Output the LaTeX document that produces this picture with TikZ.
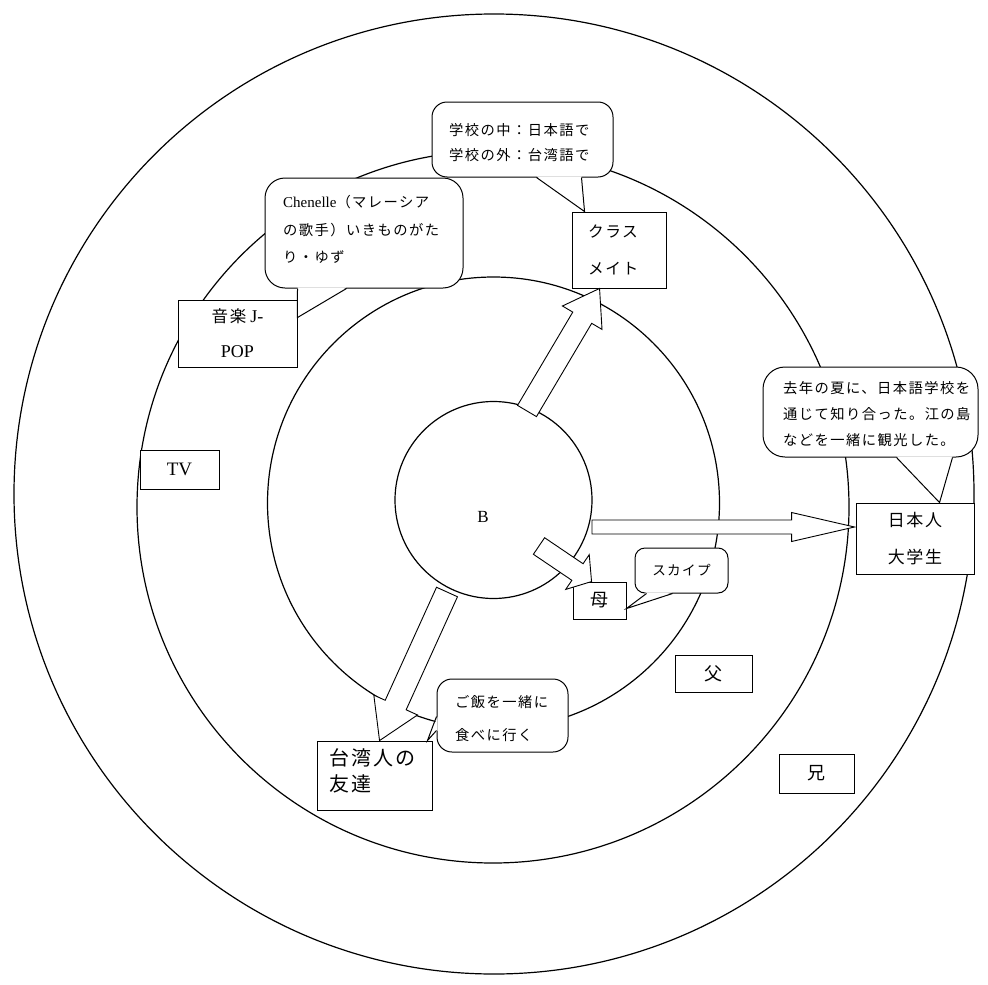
\documentclass[tikz,border=0pt]{standalone}
\usepackage{fontspec}
\setmainfont{Liberation Serif}
\newfontfamily\jp[LetterSpace=10]{Noto Sans CJK JP}
\usetikzlibrary{calc}
\newcommand\jpsize[2]{\jp\fontsize{#1}{#2}\selectfont}
\newcommand\rmsize[1]{\rmfamily\fontsize{#1}{#1}\selectfont}
% block arrow: tail, tip, shaft half width, head half width, head length
\newcommand\barr[5]{%
  \coordinate (bh) at ($(#2)!#5!(#1)$);
  \draw[barrow] ($(#1)!#3!90:(#2)$) -- ($(bh)!#3!90:(#2)$) -- ($(bh)!#4!90:(#2)$) -- (#2)
    -- ($(bh)!#4!-90:(#2)$) -- ($(bh)!#3!-90:(#2)$) -- ($(#1)!#3!-90:(#2)$) -- cycle;
}
\begin{document}
\begin{tikzpicture}[x=1pt,y=-1pt,
  circ/.style={circle, draw, line width=1.2pt, inner sep=0},
  box/.style={rectangle, draw, fill=white, line width=0.9pt, inner sep=0},
  bubble/.style={rectangle, draw, fill=white, rounded corners=#1, line width=1pt, inner sep=0},
  bubble/.default=15pt,
  barrow/.style={draw, fill=white, line width=0.9pt, line join=miter},
  tailline/.style={draw, line width=1pt},
  txt/.style={inner sep=0, align=left}]
\fill[white] (0,0) rectangle (988,985);
\useasboundingbox (0,0) rectangle (988,985);

% circles
\node[circ, minimum size=960pt] (c4) at (494,494) {};
\node[circ, minimum size=712pt] (c3) at (493,507) {};
\node[circ, minimum size=452pt] (c2) at (493.5,503) {};
\node[circ, minimum size=197pt] (c1) at (493.5,500) {};
\node[inner sep=0, font=\rmsize{17}] (b) at (483,517) {B};

% boxes
\node[box, minimum width=94pt, minimum height=76pt, text width=62pt, align=left, font=\jpsize{15.7}{37}] (kls) at (619,250) {クラス\\メイト};
\node[box, minimum width=119pt, minimum height=67pt, align=center, font=\jpsize{16.5}{35}] (ong) at (237.5,333.5) {音楽\hspace{4pt}{\rmsize{18}J-}\\{\rmsize{18}POP}};
\node[box, minimum width=79pt, minimum height=39pt, font=\rmsize{19}] (tv) at (179.5,469.5) {TV};
\node[box, minimum width=118pt, minimum height=71pt, align=center, font=\jpsize{17}{37}] (nih) at (915,538.5) {日本人\\大学生};
\node[box, minimum width=53pt, minimum height=37pt, font=\jpsize{18}{18}] (haha) at (599.5,600.5) {母};
\node[box, minimum width=77pt, minimum height=37pt, font=\jpsize{18}{18}] (chichi) at (713.5,673.5) {父};
\node[box, minimum width=75pt, minimum height=39pt, font=\jpsize{18}{18}] (ani) at (816.5,773.5) {兄};
\node[box, minimum width=115pt, minimum height=69pt] (tai) at (374.5,775.5) {};
\node[txt, anchor=west, font=\jpsize{20}{26}] (taitxt) at (329,771) {台湾人の\\友達};

% arrows
\coordinate (a1s) at ($(c1.center)+(33.5,-89)$);
\coordinate (a1e) at ($(kls.south west)+(28,0)$);
\coordinate (a2s) at ($(c1.center)+(98.5,27)$);
\coordinate (a2e) at ($(nih.west)+(-1,-11.5)$);
\coordinate (a3s) at ($(c1.center)+(45.5,46)$);
\coordinate (a3e) at ($(haha.north west)+(19,0)$);
\coordinate (a4s) at ($(c1.center)+(-46.5,92)$);
\coordinate (a4e) at ($(tai.north west)+(63,0)$);
\barr{a1s}{a1e}{11pt}{23pt}{34pt}
\barr{a2s}{a2e}{7pt}{14.5pt}{63pt}
\barr{a3s}{a3e}{10pt}{21pt}{17pt}
\barr{a4s}{a4e}{11.5pt}{24pt}{39pt}

% bubbles
\node[bubble=15pt, minimum width=181pt, minimum height=75pt] (gk) at (522.5,139.5) {};
\coordinate (gktip) at ($(kls.north west)+(13,0)$);
\fill[white] ($(gk.south west)+(105,-1.2)$) -- (gktip) -- ($(gk.south west)+(150,-1.2)$) -- cycle;
\draw[tailline] ($(gk.south west)+(105,0)$) -- (gktip) -- ($(gk.south west)+(150,0)$);
\node[txt, anchor=west, font=\jpsize{14.3}{25}] (gkt) at (449,142.5) {学校の中：日本語で\\学校の外：台湾語で};

\node[bubble=20pt, minimum width=198pt, minimum height=110pt] (ch) at (364,233) {};
\coordinate (chtip) at ($(ong.north east)+(0,18)$);
\fill[white] ($(ch.south west)+(33,-1.2)$) -- (chtip) -- ($(ch.south west)+(82,-1.2)$) -- cycle;
\draw[tailline] ($(ch.south west)+(33,0)$) -- (chtip) -- ($(ch.south west)+(82,0)$);
\node[txt, anchor=west, font=\jpsize{14.3}{27.5}] (cht) at (283,229.5) {{\rmsize{15}Chenelle}（マレーシア\\の歌手）いきものがた\\り・ゆず};

\node[bubble=22pt, minimum width=215pt, minimum height=90pt] (ky) at (870.5,412) {};
\coordinate (kytip) at ($(nih.north west)+(84,0)$);
\fill[white] ($(ky.south west)+(134,-1.2)$) -- (kytip) -- ($(ky.south west)+(190,-1.2)$) -- cycle;
\draw[tailline] ($(ky.south west)+(134,0)$) -- (kytip) -- ($(ky.south west)+(190,0)$);
\node[txt, anchor=west, font=\jpsize{14.3}{26}] (kyt) at (783,414) {去年の夏に、日本語学校を\\通じて知り合った。江の島\\などを一緒に観光した。};

\node[bubble=10pt, minimum width=93pt, minimum height=45pt, font=\jpsize{13.6}{14}] (sk) at (681.5,570.5) {スカイプ};
\coordinate (sktip) at ($(haha.north east)+(0,27)$);
\fill[white] ($(sk.south west)+(12,-1.2)$) -- (sktip) -- ($(sk.south west)+(38,-1.2)$) -- cycle;
\draw[tailline] ($(sk.south west)+(12,0)$) -- (sktip) -- ($(sk.south west)+(38,0)$);

\node[bubble=15pt, minimum width=131pt, minimum height=73pt] (gh) at (502.5,715.5) {};
\coordinate (ghtip) at ($(tai.north east)+(-5,0)$);
\fill[white] ($(gh.north west)+(1.2,38)$) -- (ghtip) -- ($(gh.north west)+(1.2,52)$) -- cycle;
\draw[tailline] ($(gh.north west)+(0,38)$) -- (ghtip) -- ($(gh.north west)+(0,52)$);
\node[txt, anchor=west, font=\jpsize{14.3}{33}] (ght) at (455,718.5) {ご飯を一緒に\\食べに行く};
\end{tikzpicture}
\end{document}
